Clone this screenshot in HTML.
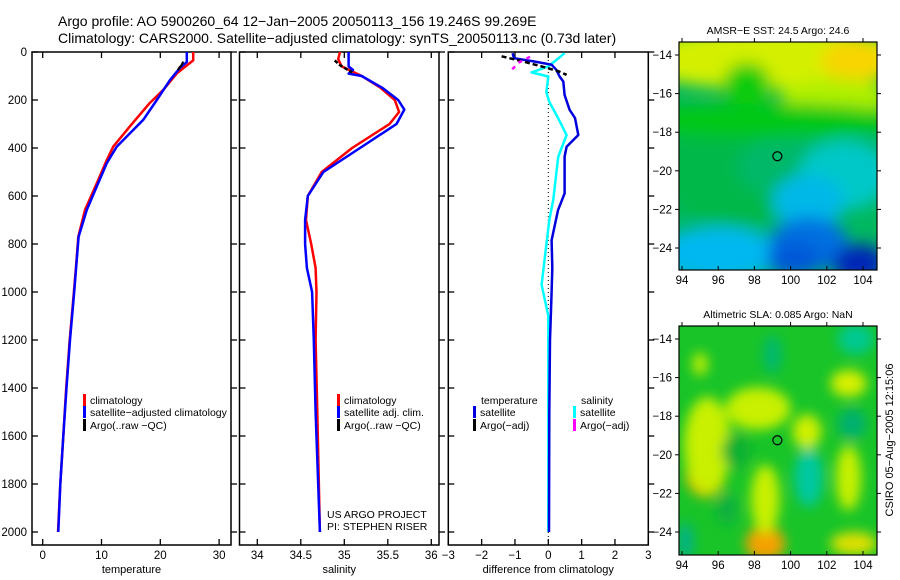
<!DOCTYPE html>
<html><head><meta charset="utf-8">
<style>
html,body{margin:0;padding:0;background:#fff;}
svg{display:block;font-family:"Liberation Sans",sans-serif;}
text{fill:#000;}
</style></head>
<body>
<svg id="chart" width="900" height="580" viewBox="0 0 900 580" xmlns="http://www.w3.org/2000/svg">
<defs>
<filter id="blur1" x="-20%" y="-20%" width="140%" height="140%"><feGaussianBlur stdDeviation="8"/></filter>
<filter id="blur2" x="-20%" y="-20%" width="140%" height="140%"><feGaussianBlur stdDeviation="6"/></filter>
<clipPath id="clipM1"><rect x="679" y="42" width="198" height="228"/></clipPath>
<clipPath id="clipM2"><rect x="679" y="326" width="198" height="229"/></clipPath>
</defs>
<text x="58" y="26" font-size="14">Argo profile: AO 5900260_64 12−Jan−2005 20050113_156 19.246S 99.269E</text>
<text x="58" y="43" font-size="14">Climatology: CARS2000. Satellite−adjusted climatology: synTS_20050113.nc (0.73d later)</text>
<g id="panels"></g>
<g id="maps"></g>
<text transform="translate(893,440) rotate(-90)" font-size="11" text-anchor="middle">CSIRO 05−Aug−2005 12:15:06</text>
</svg>
<script>
// ---- data ----
const tempClimDepth = [0, 35, 89, 158, 213, 311, 394, 450, 547, 658, 770, 895, 1000, 1200, 1400, 1600, 1800, 2000];
const tempClimValue = [25.6, 25.6, 22.8, 20.5, 18.2, 14.8, 12.0, 10.9, 9.2, 7.2, 6.05, 5.67, 5.3, 4.6, 4.0, 3.5, 3.0, 2.6];
const tempSatDepth = [0, 42, 66, 117, 200, 283, 394, 463, 560, 658, 770, 895, 1000, 1200, 1400, 1600, 1800, 2000];
const tempSatValue = [24.5, 24.5, 23.35, 21.65, 19.4, 17.1, 12.6, 10.9, 9.2, 7.5, 6.1, 5.7, 5.35, 4.65, 4.05, 3.5, 3.0, 2.65];
const tempArgoDepth = [40, 55, 66, 75];
const tempArgoValue = [23.9, 23.6, 23.2, 23.0];

const salClimDepth = [0, 30, 60, 100, 150, 200, 250, 300, 400, 500, 600, 700, 800, 900, 1000, 1200, 1500, 2000];
const salClimValue = [34.95, 34.93, 34.97, 35.2, 35.42, 35.58, 35.63, 35.52, 35.09, 34.74, 34.58, 34.56, 34.62, 34.67, 34.68, 34.67, 34.69, 34.72];
const salSatDepth = [0, 30, 60, 75, 90, 100, 150, 200, 240, 300, 400, 500, 600, 700, 800, 900, 1000, 1200, 1500, 2000];
const salSatValue = [35.05, 35.05, 35.05, 35.1, 35.05, 35.2, 35.44, 35.62, 35.69, 35.6, 35.18, 34.76, 34.58, 34.55, 34.55, 34.57, 34.63, 34.65, 34.67, 34.72];
const salArgoDepth = [35, 55, 70, 85];
const salArgoValue = [34.89, 34.95, 35.02, 35.09];

const diffTDepth = [5, 26, 40, 53, 74, 102, 123, 179, 241, 275, 346, 395, 436, 589, 659, 784, 900, 1000, 1200, 1500, 2000];
const diffTValue = [-1.07, -1.03, -0.4, 0.1, 0.24, 0.34, 0.45, 0.49, 0.64, 0.8, 0.9, 0.55, 0.49, 0.49, 0.29, 0.1, 0.12, 0.1, 0.05, 0.03, 0.02];
const diffSDepth = [5, 40, 60, 85, 102, 167, 208, 277, 346, 436, 505, 616, 700, 850, 970, 1100, 1500, 2000];
const diffSValue = [0.49, 0.18, 0.0, -0.5, 0.0, -0.06, 0.03, 0.3, 0.55, 0.3, 0.24, 0.15, 0.03, -0.1, -0.2, 0.0, 0.0, 0.0];
const diffArgoTDepth = [18, 38, 60, 80, 95];
const diffArgoTValue = [-1.4, -0.8, -0.2, 0.3, 0.55];
const diffArgoSDepth = [20, 45, 75];
const diffArgoSValue = [-0.55, -0.9, -1.1];

const depthTicks = [0, 200, 400, 600, 800, 1000, 1200, 1400, 1600, 1800, 2000];
const tempTicks = [0, 10, 20, 30];
const salTicks = [34, 34.5, 35, 35.5, 36];
const diffTicks = [-3, -2, -1, 0, 1, 2, 3];
const lonTicks = [94, 96, 98, 100, 102, 104];
const latTicks = [-14, -16, -18, -20, -22, -24];
const argoLon = 99.269, argoLat = -19.246;

// ---- helpers ----
const NS = "http://www.w3.org/2000/svg";
function mk(tag, attrs, parent) {
  const e = document.createElementNS(NS, tag);
  for (const k in attrs) e.setAttribute(k, attrs[k]);
  parent.appendChild(e);
  return e;
}
const panelsG = document.getElementById('panels');
const mapsG = document.getElementById('maps');
const yTop = 52, yPer = 0.24, pTop = 52, pBot = 545;
function yD(d) { return yTop + d * yPer; }

function axisX(x0, v0, ppu) { return v => x0 + (v - v0) * ppu; }

function panel(name, left, right, xf, ticks, fmt, xlabel, showY) {
  const g = mk('g', {}, panelsG);
  
  
  const fr = mk('rect', {x: left, y: pTop, width: right - left, height: pBot - pTop, fill: 'none', stroke: '#000', 'stroke-width': 1.5}, g);
  
  
  ticks.forEach(t => {
    const x = xf(t);
    mk('line', {x1: x, y1: pBot, x2: x, y2: pBot - 6, stroke: '#000', 'stroke-width': 1.3}, g);
    mk('line', {x1: x, y1: pTop, x2: x, y2: pTop + 6, stroke: '#000', 'stroke-width': 1.3}, g);
    const tx = mk('text', {x: x, y: 559, 'font-size': 11.5, 'text-anchor': 'middle'}, g);
    tx.textContent = fmt(t);
    
    
  });
  depthTicks.forEach(d => {
    const y = yD(d);
    mk('line', {x1: left, y1: y, x2: left + 6, y2: y, stroke: '#000', 'stroke-width': 1.3}, g);
    mk('line', {x1: right, y1: y, x2: right + 6, y2: y, stroke: '#000', 'stroke-width': 1.3}, g);
    if (showY) {
      const tx = mk('text', {x: 27, y: y + 4, 'font-size': 11.5, 'text-anchor': 'end'}, g);
      tx.textContent = d;
      
      
    }
  });
  const xl = mk('text', {x: (left + right) / 2, y: 573, 'font-size': 11, 'text-anchor': 'middle'}, g);
  xl.textContent = xlabel;
  
  
  return g;
}

function series(g, name, depths, vals, xf, color, w, dash) {
  const pts = depths.map((d, i) => xf(vals[i]).toFixed(1) + ',' + yD(d).toFixed(1)).join(' ');
  const attrs = {points: pts, fill: 'none', stroke: color, 'stroke-width': w, 'stroke-linejoin': 'round'};
  if (dash) attrs['stroke-dasharray'] = dash;
  const p = mk('polyline', attrs, g);
  
  
}

function legend(g, x, y, color, label) {
  const r = mk('rect', {x: x, y: y - 10, width: 3, height: 12, fill: color}, g);
  
  
  const t = mk('text', {x: x + 7, y: y, 'font-size': 10.5}, g);
  t.textContent = label;
  
  
}

// ---- panel 1: temperature ----
const xT = axisX(42.7, 0, 5.88);
const g1 = panel('temperature-panel', 32, 231, xT, tempTicks, v => v, 'temperature', true);
series(g1, 'temp-climatology-line', tempClimDepth, tempClimValue, xT, '#ff0000', 2.5);
series(g1, 'temp-satellite-line', tempSatDepth, tempSatValue, xT, '#0000ff', 2.5);
series(g1, 'temp-argo-line', tempArgoDepth, tempArgoValue, xT, '#000', 2);
legend(g1, 83, 404, '#ff0000', 'climatology');
legend(g1, 83, 416, '#0000ff', 'satellite−adjusted climatology');
legend(g1, 83, 429, '#000', 'Argo(..raw −QC)');

// ---- panel 2: salinity ----
const xS = axisX(257.3, 34, 87);
const g2 = panel('salinity-panel', 239.5, 439, xS, salTicks, v => v, 'salinity', false);
series(g2, 'sal-climatology-line', salClimDepth, salClimValue, xS, '#ff0000', 2.5);
series(g2, 'sal-satellite-line', salSatDepth, salSatValue, xS, '#0000ff', 2.5);
series(g2, 'sal-argo-line', salArgoDepth, salArgoValue, xS, '#000', 2.5, '4,2');
legend(g2, 337, 404, '#ff0000', 'climatology');
legend(g2, 337, 416, '#0000ff', 'satellite adj. clim.');
legend(g2, 337, 429, '#000', 'Argo(..raw −QC)');
const us1 = mk('text', {x: 327, y: 518, 'font-size': 10.5}, g2);
us1.textContent = 'US ARGO PROJECT';


const us2 = mk('text', {x: 327, y: 530, 'font-size': 10.5}, g2);
us2.textContent = 'PI: STEPHEN RISER';



// ---- panel 3: difference ----
const xDf = axisX(548.3, 0, 33.33);
const g3 = panel('difference-panel', 448.3, 648.3, xDf, diffTicks, v => v < 0 ? '−' + (-v) : v, 'difference from climatology', false);
const zl = mk('line', {x1: xDf(0), y1: pTop, x2: xDf(0), y2: pBot, stroke: '#000', 'stroke-width': 1, 'stroke-dasharray': '1,3'}, g3);


series(g3, 'diff-salinity-satellite-line', diffSDepth, diffSValue, xDf, '#00ffff', 2.5);
series(g3, 'diff-temperature-satellite-line', diffTDepth, diffTValue, xDf, '#0000dd', 2.5);
series(g3, 'diff-temperature-argo-line', diffArgoTDepth, diffArgoTValue, xDf, '#000', 2.5, '5,3');
series(g3, 'diff-salinity-argo-line', diffArgoSDepth, diffArgoSValue, xDf, '#ff00ff', 2.5, '4,5');
const lt = mk('text', {x: 481, y: 404, 'font-size': 10.5}, g3);
lt.textContent = 'temperature';


legend(g3, 473, 416, '#0000dd', 'satellite');
legend(g3, 473, 429, '#000', 'Argo(−adj)');
const ls = mk('text', {x: 581, y: 404, 'font-size': 10.5}, g3);
ls.textContent = 'salinity';


legend(g3, 573, 416, '#00ffff', 'satellite');
legend(g3, 573, 429, '#ff00ff', 'Argo(−adj)');

// ---- maps ----
const lonX = axisX(682, 94, 18.1);
function mapPanel(name, top, bot, lat0y, base, blobs, clip, title, filt) {
  const latY = lat => lat0y + (-14 - lat) * 19.3;
  const g = mk('g', {}, mapsG);
  
  
  const cg = mk('g', {'clip-path': 'url(#' + clip + ')'}, g);
  mk('rect', {x: 679, y: top, width: 198, height: bot - top, fill: base}, cg);
  const bg = mk('g', {filter: 'url(#' + filt + ')'}, cg);
  blobs.forEach(b => {
    mk('ellipse', {cx: lonX(b[0]), cy: latY(b[1]), rx: b[2] * 18.1, ry: b[3] * 19.3, fill: b[4]}, bg);
  });
  mk('rect', {x: 679, y: top, width: 198, height: bot - top, fill: 'none', stroke: '#000', 'stroke-width': 1.2}, g);
  lonTicks.forEach(l => {
    const x = lonX(l);
    mk('line', {x1: x, y1: bot, x2: x, y2: bot - 4, stroke: '#000'}, g);
    mk('line', {x1: x, y1: top, x2: x, y2: top - 4, stroke: '#000'}, g);
    const t = mk('text', {x: x, y: bot + 14, 'font-size': 11.5, 'text-anchor': 'middle'}, g);
    t.textContent = l;
    
    
  });
  latTicks.forEach(l => {
    const y = latY(l);
    mk('line', {x1: 679, y1: y, x2: 675, y2: y, stroke: '#000'}, g);
    mk('line', {x1: 877, y1: y, x2: 881, y2: y, stroke: '#000'}, g);
    const t = mk('text', {x: 672, y: y + 4, 'font-size': 11.5, 'text-anchor': 'end'}, g);
    t.textContent = '−' + (-l);
    
    
  });
  const c = mk('circle', {cx: lonX(argoLon), cy: latY(argoLat), r: 4.5, fill: 'none', stroke: '#000', 'stroke-width': 1.2}, g);
  
  
  const tt = mk('text', {x: 778, y: top - 8, 'font-size': 10.5, 'text-anchor': 'middle'}, g);
  tt.textContent = title;
  
  
}
const sstBlobs = [
  [97, -20, 4, 3, '#00b848'],
  [100, -19.8, 3, 1.6, '#00b868'],
  [99, -14.2, 8, 1.6, '#d4f000'],
  [103.5, -14.3, 1.8, 1.1, '#f8d400'],
  [97.6, -15.5, 1.3, 1.1, '#08cc10'],
  [102.5, -16.2, 3, 1.0, '#b0f000'],
  [98.5, -17.4, 8, 0.9, '#00c818'],
  [103, -20.2, 2.5, 1.8, '#00c8c8'],
  [101, -21.6, 2, 1.4, '#00b8e8'],
  [96, -24.3, 3.5, 1.4, '#00b8f0'],
  [101, -23.8, 2.2, 1.4, '#0070e0'],
  [103.8, -24.8, 1.5, 1, '#0028b8'],
  [100.2, -24.6, 1.5, 0.9, '#0058d8']
];
const slaBlobs = [
  [95.3, -21, 1.1, 1.2, '#f0b000'],
  [98.6, -24.6, 1.1, 0.9, '#f5a000'],
  [95.4, -19.5, 1.3, 2.5, '#c8f000'],
  [98.6, -22.3, 0.8, 1.8, '#c8f000'],
  [98.2, -17.6, 1.8, 1.1, '#c8f000'],
  [100.9, -18.8, 0.8, 0.9, '#d0f000'],
  [103.2, -16.3, 1.0, 0.7, '#d8f000'],
  [103.2, -21.2, 0.7, 1.7, '#c8f000'],
  [103.5, -24.6, 1.3, 0.6, '#e0e000'],
  [95, -15.3, 0.4, 0.6, '#c8f000'],
  [101, -21.2, 0.8, 1.5, '#00c8a0'],
  [103.6, -14, 1, 0.8, '#00c890'],
  [99, -14.8, 0.5, 1, '#00b870'],
  [97, -19.8, 0.8, 0.9, '#10b030'],
  [103.4, -18.4, 0.8, 0.8, '#00b070'],
  [96.5, -22.8, 0.6, 0.8, '#10b040'],
  [94.2, -24.5, 0.4, 1, '#00b090']
];
mapPanel('sst-map', 42, 270, 55, '#00b860', sstBlobs, 'clipM1', 'AMSR−E SST: 24.5 Argo: 24.6', 'blur1');
mapPanel('sla-map', 326, 555, 339, '#18c428', slaBlobs, 'clipM2', 'Altimetric SLA: 0.085 Argo: NaN', 'blur2');
</script>
</body></html>
